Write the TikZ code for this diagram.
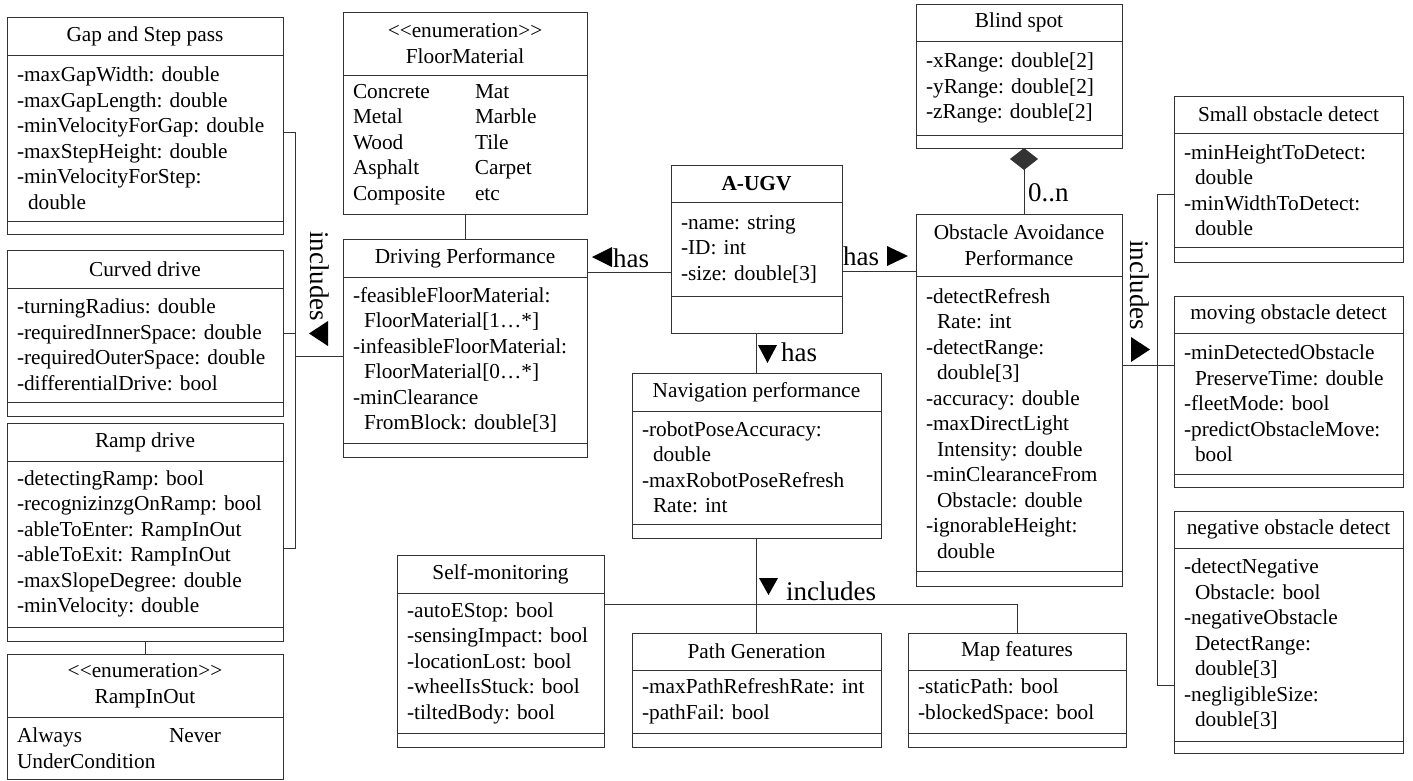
\documentclass[tikz,border=0pt]{standalone}
\usepackage{fontspec}
\setmainfont{Liberation Serif}
\usetikzlibrary{arrows.meta}
\tikzset{
  box/.style={draw=black!80, line width=1pt, inner sep=0pt, outer sep=0pt, fill=white},
  ttl/.style={box, align=center, font=\rmfamily\fontsize{21.3}{26}\selectfont},
  att/.style={box, align=left, inner xsep=10pt, inner ysep=0pt, font=\rmfamily\fontsize{21.3}{25.5}\selectfont},
  conn/.style={draw=black!80, line width=0.9pt},
  lbl/.style={inner sep=0pt, font=\rmfamily\fontsize{27}{30}\selectfont},
}
\newcommand\ind{\hspace*{11pt}}
\newcommand\enumst{<{}<enumeration>{}>}
% name, xl, xr, top, sep1, sep2, bottom, title, attributes
\newcommand\umlclass[9]{%
  \pgfmathsetmacro\clsW{#3-#2}%
  \pgfmathsetmacro\clsTW{#3-#2-20}%
  \pgfmathsetmacro\clsHa{#5-#4}%
  \pgfmathsetmacro\clsHb{#6-#5}%
  \pgfmathsetmacro\clsHc{#7-#6}%
  \node[ttl, minimum width=\clsW pt, minimum height=\clsHa pt, anchor=north west] (#1-t) at (#2,#4) {#8};
  \node[att, text width=\clsTW pt, minimum height=\clsHb pt, anchor=north west] (#1-a) at (#1-t.south west) {#9};
  \node[box, minimum width=\clsW pt, minimum height=\clsHc pt, anchor=north west] (#1-o) at (#1-a.south west) {};
}
% name, xl, xr, top, sep, bottom, title, body
\newcommand\enumclass[8]{%
  \pgfmathsetmacro\clsW{#3-#2}%
  \pgfmathsetmacro\clsTW{#3-#2-20}%
  \pgfmathsetmacro\clsHa{#5-#4}%
  \pgfmathsetmacro\clsHb{#6-#5}%
  \node[ttl, minimum width=\clsW pt, minimum height=\clsHa pt, anchor=north west] (#1-t) at (#2,#4) {#7};
  \node[att, text width=\clsTW pt, minimum height=\clsHb pt, anchor=north west] (#1-a) at (#1-t.south west) {#8};
}
\frenchspacing
\begin{document}
\frenchspacing
\begin{tikzpicture}[x=1pt, y=-1pt]
\useasboundingbox (0,0) rectangle (1413,780);

% ---------- left column ----------
\umlclass{gap}{7}{283}{17}{55}{221}{234}{Gap and Step pass}
  {-maxGapWidth: double\\-maxGapLength: double\\-minVelocityForGap: double\\-maxStepHeight: double\\-minVelocityForStep:\\\ind double}
\umlclass{curved}{7}{283}{250}{288}{402}{416}{Curved drive}
  {-turningRadius: double\\-requiredInnerSpace: double\\-requiredOuterSpace: double\\-differentialDrive: bool}
\umlclass{ramp}{7}{283}{423}{461}{627}{641}{Ramp drive}
  {-detectingRamp: bool\\-recognizinzgOnRamp: bool\\-ableToEnter: RampInOut\\-ableToExit: RampInOut\\-maxSlopeDegree: double\\-minVelocity: double}
\enumclass{rampio}{7}{283}{654}{717}{779}{\enumst\\RampInOut}
  {\makebox[152pt][l]{Always}Never\\UnderCondition}

% ---------- second column ----------
\enumclass{floor}{343}{587}{12}{75}{214}{\enumst\\FloorMaterial}
  {\makebox[122pt][l]{Concrete}Mat\\\makebox[122pt][l]{Metal}Marble\\\makebox[122pt][l]{Wood}Tile\\\makebox[122pt][l]{Asphalt}Carpet\\\makebox[122pt][l]{Composite}etc}
\umlclass{drive}{343}{587}{239}{277}{443}{457}{Driving Performance}
  {-feasibleFloorMaterial:\\\ind FloorMaterial[1…*]\\-infeasibleFloorMaterial:\\\ind FloorMaterial[0…*]\\-minClearance\\\ind FromBlock: double[3]}
\umlclass{self}{397}{604}{555}{593}{733}{747}{Self-monitoring}
  {-autoEStop: bool\\-sensingImpact: bool\\-locationLost: bool\\-wheelIsStuck: bool\\-tiltedBody: bool}

% ---------- centre ----------
\umlclass{ugv}{671}{842}{165}{202}{296}{333}{\textbf{A-UGV}}
  {-name: string\\-ID: int\\-size: double[3]}
\umlclass{nav}{632}{881}{373}{411}{524}{538}{Navigation performance}
  {-robotPoseAccuracy:\\\ind double\\-maxRobotPoseRefresh\\\ind Rate: int}
\umlclass{path}{632}{881}{633}{670}{733}{747}{Path Generation}
  {-maxPathRefreshRate: int\\-pathFail: bool}
\umlclass{map}{908}{1126}{633}{670}{733}{747}{Map features}
  {-staticPath: bool\\-blockedSpace: bool}

% ---------- obstacle column ----------
\umlclass{blind}{916}{1122}{4}{41}{135}{148}{Blind spot}
  {-xRange: double[2]\\-yRange: double[2]\\-zRange: double[2]}
\umlclass{obst}{916}{1122}{214}{276}{571}{586}{Obstacle Avoidance\\Performance}
  {-detectRefresh\\\ind Rate: int\\-detectRange:\\\ind double[3]\\-accuracy: double\\-maxDirectLight\\\ind Intensity: double\\-minClearanceFrom\\\ind Obstacle: double\\-ignorableHeight:\\\ind double}

% ---------- right column ----------
\umlclass{small}{1174}{1403}{96}{133}{247}{262}{Small obstacle detect}
  {-minHeightToDetect:\\\ind double\\-minWidthToDetect:\\\ind double}
\umlclass{moving}{1174}{1403}{296}{333}{474}{487}{moving obstacle detect}
  {-minDetectedObstacle\\\ind PreserveTime: double\\-fleetMode: bool\\-predictObstacleMove:\\\ind bool}
\umlclass{neg}{1174}{1403}{511}{548}{741}{753}{negative obstacle detect}
  {-detectNegative\\\ind Obstacle: bool\\-negativeObstacle\\\ind DetectRange:\\\ind double[3]\\-negligibleSize:\\\ind double[3]}

% ---------- connectors ----------
\coordinate (bL1) at (295,132);
\coordinate (bL2) at (295,333);
\coordinate (bL3) at (295,548);
\coordinate (bL4) at (295,356);
\draw[conn] (gap-a.east |- bL1) -- (bL1) -- (bL3) -- (ramp-a.east |- bL3);
\draw[conn] (curved-a.east |- bL2) -- (bL2);
\draw[conn] (bL4) -- (drive-a.west |- bL4);
\draw[conn] (floor-a.south) -- (drive-t.north);
\draw[conn] (ramp-o.south) -- (rampio-t.north);

\coordinate (hL) at (0,272);
\coordinate (hR) at (0,271);
\draw[conn] (ugv-a.west |- hL) -- (drive-t.east |- hL);
\draw[conn] (ugv-a.east |- hR) -- (obst-t.west |- hR);
\draw[conn] (ugv-o.south) -- (nav-t.north);
\draw[conn] (nav-o.south) -- (path-t.north);
\coordinate (bB) at (0,604);
\draw[conn] (self-a.east |- bB) -| (map-t.north);

\draw[conn, -{Diamond[length=22pt, width=28pt]}] ([xshift=5pt]obst-t.north) -- ([xshift=5pt]blind-o.south);

\coordinate (bR1) at (1157,194);
\coordinate (bR2) at (1157,365);
\coordinate (bR3) at (1157,685);
\draw[conn] (small-a.west |- bR1) -- (bR1) -- (bR3) -- (neg-a.west |- bR3);
\draw[conn] (obst-a.east |- bR2) -- (moving-a.west |- bR2);

% ---------- labels ----------
\node[lbl, anchor=base west] (hasL) at (613,267) {has};
\fill (592,257) -- (612,247) -- (612,267) -- cycle;
\node[lbl, anchor=base west] (hasR) at (843,265) {has};
\fill (908,256) -- (887,246) -- (887,266) -- cycle;
\node[lbl, anchor=base west] (hasD) at (781,361) {has};
\fill (767.5,363) -- (758,345) -- (777,345) -- cycle;
\node[lbl, anchor=base west] (incB) at (786,600) {includes};
\fill (768.5,595) -- (759,578) -- (778,578) -- cycle;
\node[lbl, anchor=base west] (mult) at (1028,201) {0..n};
\node[lbl, rotate=-90, anchor=base west] (incL) at (310,231) {includes};
\fill (309,333.5) -- (328,321) -- (328,346) -- cycle;
\node[lbl, rotate=-90, anchor=base west] (incR) at (1130,240) {includes};
\fill (1150,349.5) -- (1131,337) -- (1131,362) -- cycle;
\end{tikzpicture}
\end{document}
